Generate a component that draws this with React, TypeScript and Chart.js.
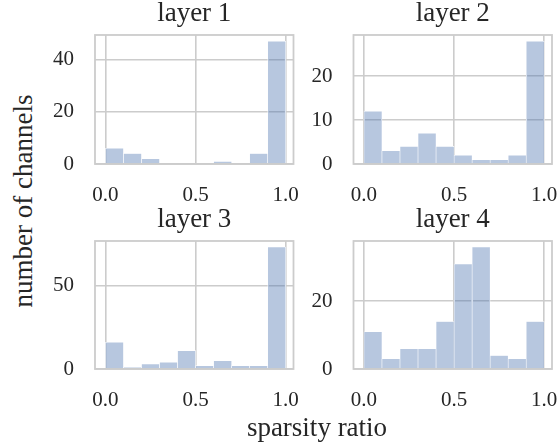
import React, { useEffect, useRef } from "react";
import { Chart, registerables } from "chart.js";

Chart.register(...registerables);

// ---- data ----
const binCenters = [0.05, 0.15, 0.25, 0.35, 0.45, 0.55, 0.65, 0.75, 0.85, 0.95];
const layer1Counts = [6, 4, 2, 0, 0, 0, 1, 0, 4, 47];
const layer2Counts = [12, 3, 4, 7, 4, 2, 1, 1, 2, 28];
const layer3Counts = [16, 1, 3, 4, 11, 2, 5, 2, 2, 73];
const layer4Counts = [11, 3, 6, 6, 14, 31, 36, 4, 3, 14];
const xTickValues = [0, 0.5, 1.0];
const layer1YTicks = [0, 20, 40];
const layer2YTicks = [0, 10, 20];
const layer3YTicks = [0, 50];
const layer4YTicks = [0, 20];
const panelTitles = ["layer 1", "layer 2", "layer 3", "layer 4"];
const xAxisLabel = "sparsity ratio";
const yAxisLabel = "number of channels";

const FONT = "'Liberation Serif', 'Times New Roman', serif";
const TEXT = "#262626";
const GRID = "#cccccc";

type PanelProps = {
  left: number;
  top: number;
  width: number;
  height: number;
  title: string;
  counts: number[];
  yTicks: number[];
  yAxisWidth: number;
  xAxisHeight: number;
  padRight: number;
};

const framePlugin = {
  id: "frame",
  afterDraw(chart: any) {
    const { ctx, chartArea: a } = chart;
    ctx.save();
    ctx.strokeStyle = GRID;
    ctx.lineWidth = 1.8;
    ctx.strokeRect(a.left, a.top, a.right - a.left, a.bottom - a.top);
    ctx.restore();
  },
};

function Panel(p: PanelProps) {
  const ref = useRef<HTMLCanvasElement | null>(null);
  useEffect(() => {
    if (!ref.current) return;
    const yMax = Math.max(...p.counts) * 1.05;
    const chart = new Chart(ref.current, {
      type: "bar",
      data: {
        datasets: [
          {
            data: binCenters.map((x, i) => ({ x, y: p.counts[i] })) as any,
            backgroundColor: "rgba(76,114,176,0.4)",
            borderColor: "#ffffff",
            borderWidth: 0.6,
            barPercentage: 1,
            categoryPercentage: 1,
          },
        ],
      },
      options: {
        animation: false,
        responsive: false,
        devicePixelRatio: 1,
        layout: { padding: { left: 0, right: p.padRight, top: 0, bottom: 0 } },
        plugins: {
          legend: { display: false },
          tooltip: { enabled: false },
          title: {
            display: true,
            text: p.title,
            color: TEXT,
            fullSize: false,
            font: { family: FONT, size: 27, lineHeight: 1, weight: "normal" },
            padding: { top: 0, bottom: 8 },
          },
        },
        scales: {
          x: {
            type: "linear",
            min: -0.058,
            max: 1.043,
            offset: false,
            grid: { color: GRID, lineWidth: 1.6, drawTicks: false, offset: false },
            border: { display: false },
            ticks: {
              padding: 19,
              color: TEXT,
              font: { family: FONT, size: 21 },
              maxRotation: 0,
              autoSkip: false,
              callback: (v: any) => Number(v).toFixed(1),
            },
            afterBuildTicks: (s: any) => {
              s.ticks = xTickValues.map((v) => ({ value: v }));
            },
            afterFit: (s: any) => {
              s.height = p.xAxisHeight;
              s.paddingLeft = 0;
              s.paddingRight = 0;
            },
          },
          y: {
            type: "linear",
            min: 0,
            max: yMax,
            grid: { color: GRID, lineWidth: 1.6, drawTicks: false },
            border: { display: false },
            ticks: {
              padding: 21,
              color: TEXT,
              font: { family: FONT, size: 21 },
              callback: (v: any) => String(v),
            },
            afterBuildTicks: (s: any) => {
              s.ticks = p.yTicks.map((v) => ({ value: v }));
            },
            afterFit: (s: any) => {
              s.width = p.yAxisWidth;
              s.paddingTop = 0;
              s.paddingBottom = 0;
            },
          },
        },
      } as any,
      plugins: [framePlugin],
    });
    return () => chart.destroy();
  }, []);
  return (
    <canvas
      ref={ref}
      width={p.width}
      height={p.height}
      style={{ position: "absolute", left: p.left, top: p.top, width: p.width, height: p.height, display: "block" }}
    />
  );
}

export default function App() {
  useEffect(() => {
    document.body.style.margin = "0";
  }, []);
  return (
    <div style={{ position: "relative", width: 559, height: 448, background: "#ffffff", overflow: "hidden" }}>
      <Panel left={40} top={0} width={262} height={210} title={panelTitles[0]} counts={layer1Counts}
        yTicks={layer1YTicks} yAxisWidth={55} xAxisHeight={46} padRight={8.5} />
      <Panel left={298} top={0} width={261} height={210} title={panelTitles[1]} counts={layer2Counts}
        yTicks={layer2YTicks} yAxisWidth={55.5} xAxisHeight={46} padRight={7} />
      <Panel left={40} top={206} width={262} height={210} title={panelTitles[2]} counts={layer3Counts}
        yTicks={layer3YTicks} yAxisWidth={55} xAxisHeight={47} padRight={8.5} />
      <Panel left={298} top={206} width={261} height={210} title={panelTitles[3]} counts={layer4Counts}
        yTicks={layer4YTicks} yAxisWidth={55.5} xAxisHeight={47} padRight={7} />
      <div
        style={{
          position: "absolute", left: 317, top: 414.4, transform: "translateX(-50%)",
          fontFamily: FONT, fontSize: 27, lineHeight: "27px", color: TEXT, whiteSpace: "nowrap",
        }}
      >
        {xAxisLabel}
      </div>
      <div
        style={{
          position: "absolute", left: 23, top: 201, transform: "translate(-50%, -50%) rotate(-90deg)",
          fontFamily: FONT, fontSize: 27, lineHeight: "27px", color: TEXT, whiteSpace: "nowrap",
        }}
      >
        {yAxisLabel}
      </div>
    </div>
  );
}
